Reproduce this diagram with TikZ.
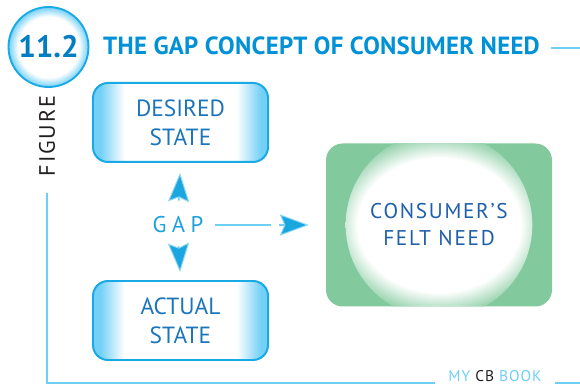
\documentclass[tikz,border=0pt]{standalone}
\usepackage{fontspec}
\setmainfont{PT Sans}
\usepackage{tikz}
\usetikzlibrary{arrows.meta}

\definecolor{rulecyan}{RGB}{109,207,246}
\definecolor{boxcyan}{RGB}{25,170,229}
\definecolor{edgecyan}{RGB}{115,208,247}
\definecolor{boxtext}{RGB}{27,117,187}
\definecolor{gapblue}{RGB}{30,160,220}
\definecolor{tipblue}{RGB}{28,166,224}
\definecolor{tiplight}{RGB}{140,215,246}
\definecolor{needgreen}{RGB}{130,202,157}
\definecolor{needtext}{RGB}{30,95,170}
\definecolor{titleblue}{RGB}{0,145,215}
\definecolor{numblue}{RGB}{0,125,195}
\definecolor{figgray}{RGB}{35,31,32}

\pgfdeclarehorizontalshading{stateedge}{100bp}{color(0bp)=(edgecyan); color(27bp)=(edgecyan);
    color(34bp)=(white); color(66bp)=(white); color(73bp)=(edgecyan); color(100bp)=(edgecyan)}
\pgfdeclareradialshading{needglow}{\pgfpoint{0bp}{0bp}}{color(0bp)=(white); color(18bp)=(white);
    color(25bp)=(needgreen); color(50bp)=(needgreen)}
\pgfdeclareradialshading{numglow}{\pgfpoint{0bp}{0bp}}{color(0bp)=(white); color(19bp)=(white);
    color(25bp)=(edgecyan); color(50bp)=(edgecyan)}

\begin{document}
\begin{tikzpicture}[
    numdisc/.style={circle,draw=boxcyan,line width=1.6pt,shade,shading=numglow,
        minimum size=2.4cm,inner sep=0pt,text=numblue,
        font=\bfseries\fontsize{26.5}{30}\selectfont},
    headline/.style={anchor=base west,inner sep=0pt,text=titleblue,
        font=\bfseries\fontsize{21.2}{24}\selectfont\addfontfeatures{LetterSpace=1}},
    state/.style={draw=boxcyan,line width=1.7pt,rounded corners=0.45cm,shade,shading=stateedge,
        minimum width=5.25cm,minimum height=2.37cm,align=center,text=boxtext,
        font=\fontsize{20}{24.7}\selectfont},
    need/.style={rounded corners=0.5cm,fill=needgreen,
        minimum width=6.78cm,minimum height=4.89cm,align=center,text=needtext,
        font=\fontsize{18.2}{23}\selectfont\addfontfeatures{LetterSpace=8},
        path picture={\shade[shading=needglow] (path picture bounding box.center) circle (2.8cm);}},
    gaplabel/.style={inner sep=0pt,text=gapblue,
        font=\fontsize{19.4}{22}\selectfont\addfontfeatures{LetterSpace=24}},
    sidelabel/.style={rotate=90,inner sep=0pt,text=figgray,
        font=\fontsize{19}{22}\selectfont\addfontfeatures{LetterSpace=8}},
    credit/.style={inner sep=0pt,text=rulecyan,
        font=\fontsize{13.2}{15}\selectfont\addfontfeatures{LetterSpace=6}},
    rule/.style={draw=rulecyan,line width=1.6pt},
    tip/.style={draw=rulecyan,line width=1.4pt,
        -{Stealth[length=0.87cm,width=0.64cm,inset=0.14cm,color=tiplight,fill=tipblue,line width=0.8pt]}}
]
    \useasboundingbox (0,0) rectangle (17.4,11.55);
    \coordinate (rightedge) at (17.4,0);

    \node[numdisc] (num) at (1.455,10.14) {11.2};
    \node[headline] (title) at (3.09,9.9) {THE GAP CONCEPT OF CONSUMER NEED};
    \draw[rule,shorten <=0.33cm] ([yshift=-0.05cm]title.east) -- ([yshift=-0.05cm]title.east -| rightedge);

    \node[sidelabel] (fig) at (1.41,7.47) {FIGURE};
    \node[credit] (book) at (14.85,0.27) {MY {\color{figgray}CB} BOOK};
    \draw[rule,shorten >=0.4cm] ([yshift=-0.5cm]fig.west) |- ([yshift=-0.2cm]book.west);
    \draw[rule,shorten <=0.39cm] ([yshift=-0.2cm]book.east) -- ([yshift=-0.2cm]book.east -| rightedge);

    \node[state] (desired) at (5.415,7.875) {DESIRED\\STATE};
    \node[state] (actual) at (5.415,1.935) {ACTUAL\\STATE};
    \node[need] (felt) at (13.17,4.8) {CONSUMER’S\\FELT NEED};
    \node[gaplabel] (gap) at (5.34,4.8) {GAP};

    \draw[tip,shorten <=0.48cm,shorten >=0.3cm] (gap.north) -- (desired.south);
    \draw[tip,shorten <=0.39cm,shorten >=0.24cm] (gap.south) -- (actual.north);
    \draw[rule,line width=1.4pt,shorten <=0.33cm,shorten >=1.65cm] (gap.east) -- (felt.west);
    \draw[tip,shorten <=2.25cm,shorten >=0.51cm] (gap.east) -- (felt.west);
\end{tikzpicture}
\end{document}
